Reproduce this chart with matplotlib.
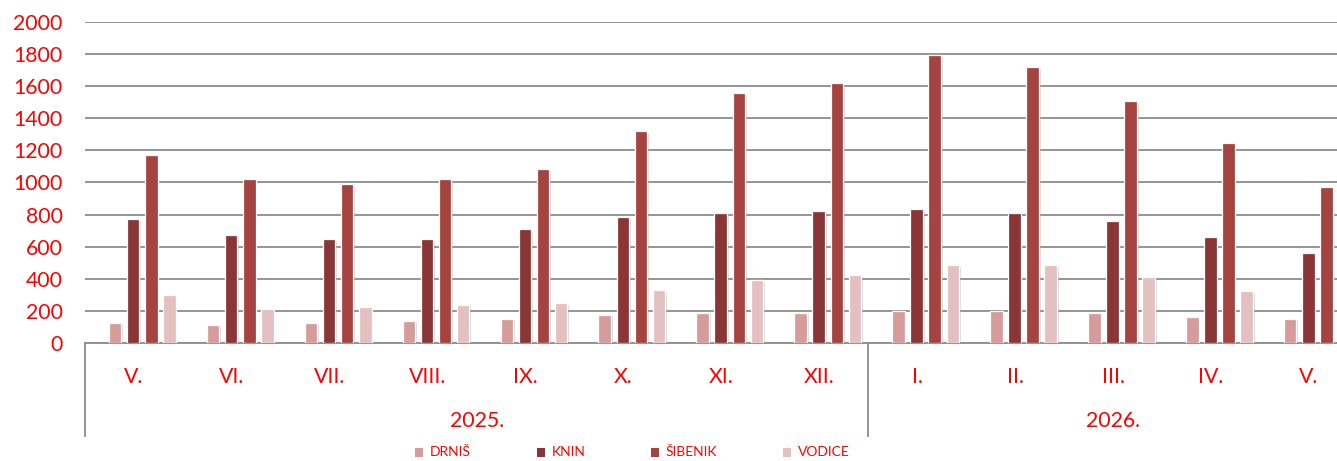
import matplotlib
matplotlib.use("Agg")
import matplotlib.pyplot as plt
import matplotlib.patheffects as pe
from matplotlib.transforms import blended_transform_factory
import numpy as np

months = ['V.', 'VI.', 'VII.', 'VIII.', 'IX.', 'X.', 'XI.', 'XII.', 'I.', 'II.', 'III.', 'IV.', 'V.']
years = ['2025.', '2026.']
year_counts = [8, 5]
series_names = ['DRNIŠ', 'KNIN', 'ŠIBENIK', 'VODICE']
drnis = [127, 114, 127, 139, 152, 177, 189, 189, 202, 202, 189, 164, 152]
knin = [773, 674, 649, 648, 710, 787, 810, 820, 836, 811, 761, 661, 561]
sibenik = [1170, 1021, 988, 1020, 1082, 1319, 1556, 1618, 1794, 1719, 1507, 1245, 971]
vodice = [299, 212, 227, 239, 249, 328, 390, 424, 486, 486, 414, 324, 252]
yticks = [0, 200, 400, 600, 800, 1000, 1200, 1400, 1600, 1800, 2000]

colors = ['#D69C9C', '#8B3636', '#A54341', '#E4C0C1']
red = '#FF0000'
FONT = 'Lato'

W, H = 1337, 461
fig = plt.figure(figsize=(W / 100, H / 100), dpi=100)
left_px, right_px, base_px, top_px = 85, 1358, 343, 22
ax = fig.add_axes([left_px / W, (H - base_px) / H, (right_px - left_px) / W, (base_px - top_px) / H])

x = np.arange(len(months)) + 0.5
bw = 0.128
step = 0.185
shift = 0.085
for j, (vals, c) in enumerate(zip([drnis, knin, sibenik, vodice], colors)):
    bars = ax.bar(x + shift + (j - 1.5) * step, vals, width=bw, color=c,
                  edgecolor='white', linewidth=0.9, zorder=3, label=series_names[j])
    for b in bars:
        b.set_path_effects([pe.SimplePatchShadow(offset=(1.2, -1.2), shadow_rgbFace='#999999', alpha=0.35),
                            pe.Normal()])

ax.set_xlim(0, len(months))
ax.set_ylim(0, 2000)
ax.set_yticks(yticks)
ax.set_yticklabels([str(v) for v in yticks], color=red, fontsize=15.3, family=FONT)
ax.tick_params(axis='y', length=0, pad=16)
ax.set_xticks([])
ax.yaxis.grid(True, color='#8C8C8C', linewidth=1.3, zorder=0)
ax.set_axisbelow(True)
for s in ['top', 'right', 'left']:
    ax.spines[s].set_visible(False)
ax.spines['bottom'].set_color('#8C8C8C')
ax.spines['bottom'].set_linewidth(1.3)

# multi-level category axis
tr = blended_transform_factory(ax.transData, fig.transFigure)
month_y = (H - 377) / H
year_y = (H - 421) / H
line_bottom = (H - 436) / H
for xi, m in zip(x, months):
    fig.text(0, 0, '')
    ax.text(xi, month_y, m, transform=tr, ha='center', va='center', color=red,
            fontsize=15.3, family=FONT, clip_on=False)
start = 0
bounds = [0]
for yr, cnt in zip(years, year_counts):
    ax.text(start + cnt / 2, year_y, yr, transform=tr, ha='center', va='center', color=red,
            fontsize=15.3, family=FONT, clip_on=False)
    start += cnt
    bounds.append(start)
for bnd in bounds[:-1]:
    ax.plot([bnd, bnd], [line_bottom, (H - base_px) / H], transform=tr, color='#8C8C8C',
            linewidth=1.3, clip_on=False, zorder=1)

# legend
leg_y = (H - 452) / H
marker_x = [419, 541, 655, 787]
for mx, name, c in zip(marker_x, series_names, colors):
    fig.patches.append(plt.Rectangle(((mx - 4) / W, leg_y - 4.5 / H), 8 / W, 9 / H,
                                     transform=fig.transFigure, facecolor=c, edgecolor='none'))
    fig.text((mx + 11) / W, leg_y, name, color=red, fontsize=10, family=FONT, ha='left', va='center')

fig.savefig('out.png', dpi=100)
